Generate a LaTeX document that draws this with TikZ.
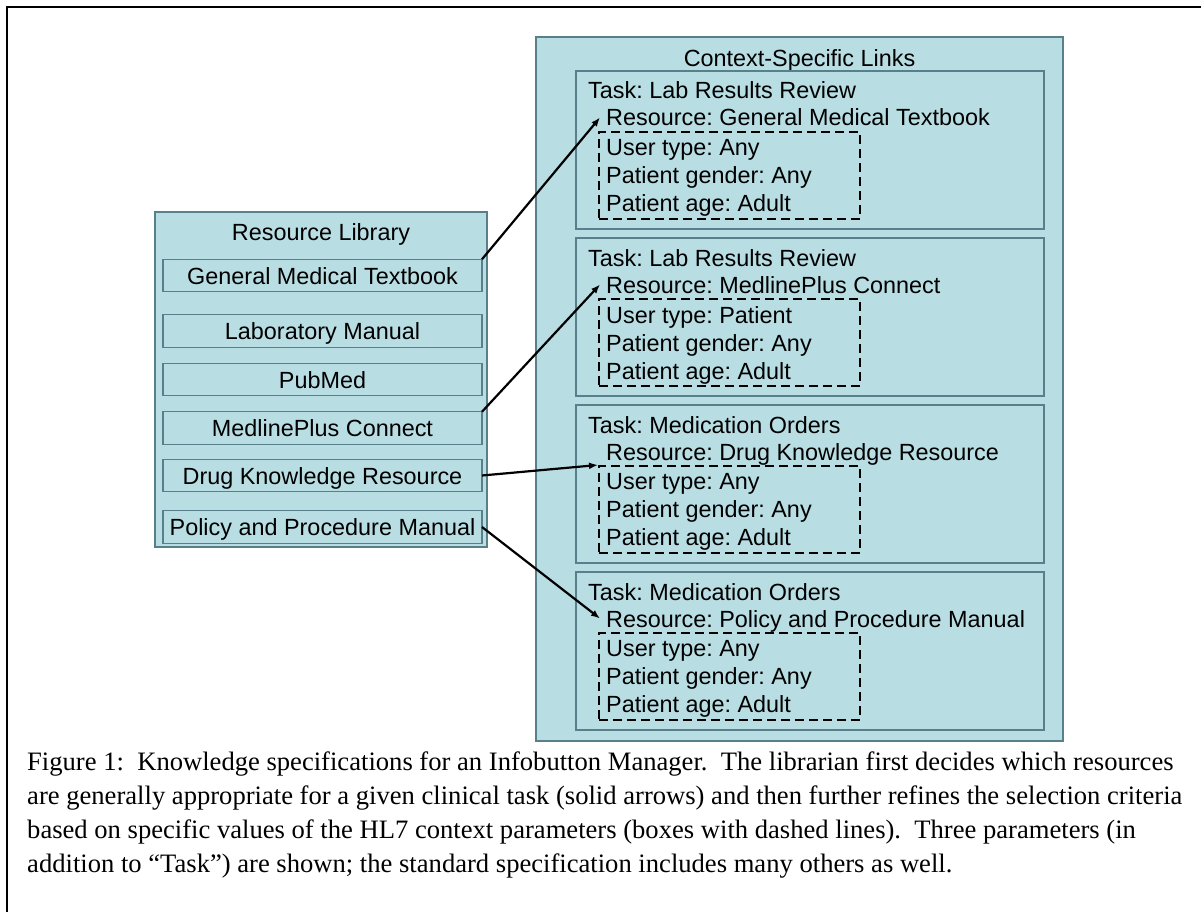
\documentclass[tikz,border=0pt]{standalone}
\usepackage{fontspec}
\setmainfont{Liberation Serif}
\setsansfont{Liberation Sans}
\usetikzlibrary{arrows.meta,positioning}
\frenchspacing

\definecolor{panelfill}{RGB}{184,222,228}
\definecolor{panelline}{RGB}{88,128,138}

\begin{document}
\begin{tikzpicture}[x=1pt,y=-1pt,
    panel/.style={draw=panelline, fill=panelfill, line width=1.3pt, inner sep=0pt, outer sep=0pt},
    libitem/.style={panel, minimum width=319pt, minimum height=32.5pt,
        text height=17pt, text depth=0pt, font=\sffamily\fontsize{23.4}{28}\selectfont},
    lbl/.style={inner sep=0pt, text height=17pt, text depth=0pt,
        font=\sffamily\fontsize{23.4}{28}\selectfont},
    crit/.style={draw, dash pattern=on 9pt off 5pt, line width=1.8pt,
        minimum width=261pt, minimum height=87pt, inner sep=0pt},
    arr/.style={-{Latex[length=9pt,width=7pt]}, line width=2.2pt}
]
\useasboundingbox (0,0) rectangle (1201,912);
\draw[line width=2pt] (7,912) -- (7,7) -- (1201,7);

% resource library
\node[panel, minimum width=332pt, minimum height=335pt] (lib) at (321,379.5) {};
\node[lbl, anchor=base] (libtitle) at (321,240) {Resource Library};
\node[libitem] (gmt) at (322.5,275.5) {General Medical Textbook};
\node[libitem, below=23pt of gmt] (labman) {Laboratory Manual};
\node[libitem, below=16pt of labman] (pubmed) {PubMed};
\node[libitem, below=16pt of pubmed] (mlp) {MedlinePlus Connect};
\node[libitem, below=15pt of mlp] (drugkr) {Drug Knowledge Resource};
\node[libitem, below=19pt of drugkr] (ppm) {Policy and Procedure Manual};

% context-specific links
\node[panel, minimum width=527pt, minimum height=704pt] (ctx) at (799.5,389) {};
\node[lbl, anchor=base] (ctxtitle) at (799.5,67) {Context-Specific Links};

\foreach \i/\t/\task/\res/\user in {
    1/71/Lab Results Review/General Medical Textbook/Any,
    2/238/Lab Results Review/MedlinePlus Connect/Patient,
    3/405/Medication Orders/Drug Knowledge Resource/Any,
    4/572/Medication Orders/Policy and Procedure Manual/Any}{
  \node[panel, minimum width=468pt, minimum height=158pt, anchor=north] (task\i) at (810,\t) {};
  \node[lbl, anchor=base west] (tasklbl\i) at (588,\t+28) {Task: \task};
  \node[lbl, inner xsep=6pt, anchor=base west] (res\i) at (600,\t+55) {Resource: \res};
  \node[crit, anchor=north west] (crit\i) at (598,\t+60) {};
  \node[lbl, text height=, text depth=, align=left, anchor=north west] (vals\i) at (606,\t+68)
    {User type: \user\\Patient gender: Any\\Patient age: Adult};
}

% links
\draw[arr] (gmt.north east) -- (res1.west);
\draw[arr] (mlp.north east) -- (res2.west);
\draw[arr] (drugkr.east) -- (crit3.north west);
\draw[arr] (ppm.east) -- (res4.west);

\node[anchor=north west, align=left, inner sep=0pt, font=\fontsize{26.6}{33.8}\selectfont] (caption) at (27,752)
  {Figure 1:\ \ Knowledge specifications for an Infobutton Manager.\ \ The librarian first decides which resources\\
   are generally appropriate for a given clinical task (solid arrows) and then further refines the selection criteria\\
   based on specific values of the HL7 context parameters (boxes with dashed lines).\ \ Three parameters (in\\
   addition to “Task”) are shown; the standard specification includes many others as well.};
\end{tikzpicture}
\end{document}
